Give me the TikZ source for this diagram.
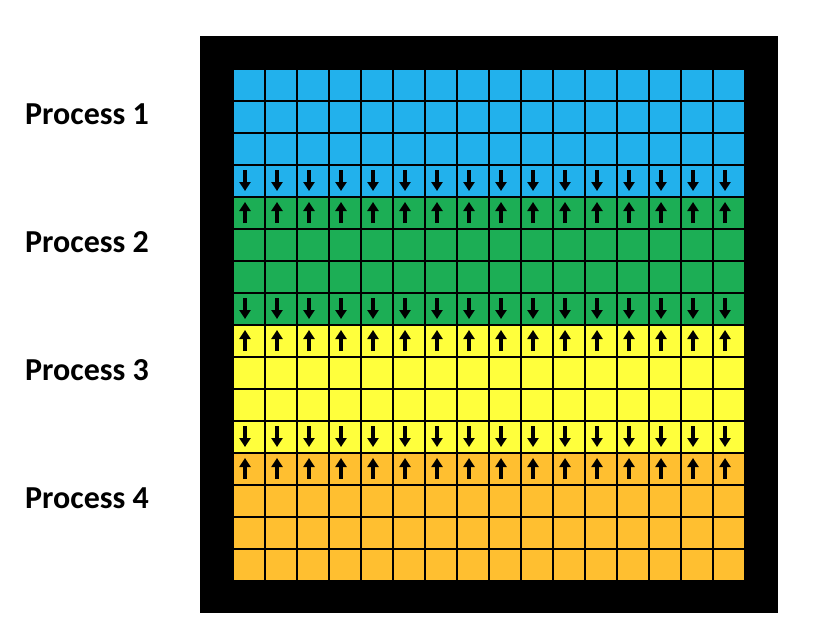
\documentclass[tikz,border=0pt]{standalone}
\usepackage{fontspec}
\setmainfont{Carlito}
\usepackage{tikz}
\usetikzlibrary{arrows.meta}
\definecolor{procblue}{HTML}{22B1EC}
\definecolor{procgreen}{HTML}{1CAE55}
\definecolor{procyellow}{HTML}{FFFF3C}
\definecolor{procorange}{HTML}{FFBF30}

\tikzset{
  proclabel/.style={anchor=west, inner sep=0pt, font=\bfseries\fontsize{32}{38}\selectfont},
  haloarrow/.style={line width=4pt, -{Triangle[length=9pt,width=11pt]}}
}

\begin{document}
\begin{tikzpicture}[x=1pt, y=-1pt]
  \useasboundingbox (0,0) rectangle (822,642);

  % Frame
  \fill[black] (200,36) rectangle (778,613);

  % Subdomains, one per process
  \foreach \col [count=\k] in {procblue,procgreen,procyellow,procorange}{
    \foreach \r in {0,...,3}{
      \foreach \c in {0,...,15}{
        \fill[\col] ({234+32*\c},{70+32*(4*(\k-1)+\r)}) rectangle ++(30,30);
      }
    }
    \node[proclabel] (proc\k) at (25,{114+128*(\k-1)}) {Process \k};
  }

  % Halo exchange: down
  \foreach \r in {3,7,11}{
    \foreach \c in {0,...,15}{
      \draw[haloarrow] ({245+32*\c},{74+32*\r}) -- ++(0,21);
    }
  }
  % Halo exchange: up
  \foreach \r in {4,8,12}{
    \foreach \c in {0,...,15}{
      \draw[haloarrow] ({245+32*\c},{95+32*\r}) -- ++(0,-21);
    }
  }
\end{tikzpicture}
\end{document}
